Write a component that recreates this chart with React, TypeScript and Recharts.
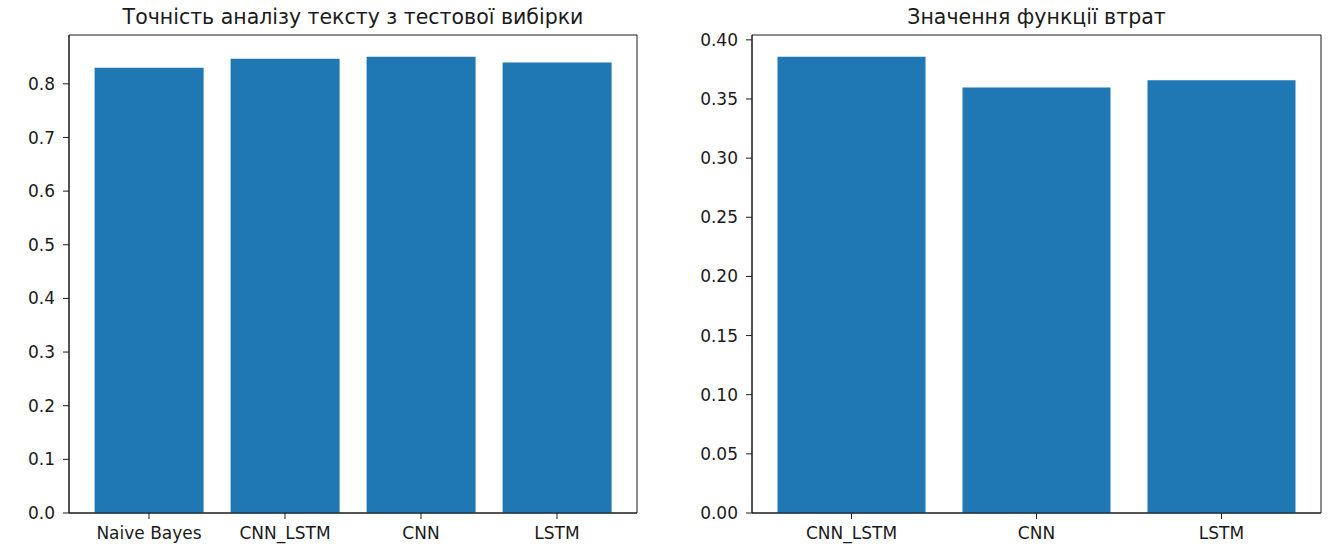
import { BarChart, Bar, XAxis, YAxis, CartesianGrid } from "recharts"

const accuracyModels = ["Naive Bayes", "CNN_LSTM", "CNN", "LSTM"]
const accuracyValues = [0.83, 0.8465, 0.8505, 0.8396]
const accuracyTicks = [0, 0.1, 0.2, 0.3, 0.4, 0.5, 0.6, 0.7, 0.8]

const lossModels = ["CNN_LSTM", "CNN", "LSTM"]
const lossValues = [0.3858, 0.3598, 0.3659]
const lossTicks = [0, 0.05, 0.1, 0.15, 0.2, 0.25, 0.3, 0.35, 0.4]

const FONT = "'DejaVu Sans', sans-serif"
const BLUE = "#1f77b4"
const INK = "#1a1a1a"

const accuracyData = accuracyModels.map((name, i) => ({ name, value: accuracyValues[i] }))
const lossData = lossModels.map((name, i) => ({ name, value: lossValues[i] }))

interface PanelProps {
  title: string
  data: { name: string; value: number }[]
  ticks: number[]
  domainMax: number
  digits: number
  left: number
  yWidth: number
  rightMargin: number
  pad: number
}

// frame lines: the edges of the plot area, so the grid draws a box like matplotlib spines
const frameX = ({ offset }: any) => [offset.left, offset.left + offset.width]
const frameY = ({ offset }: any) => [offset.top, offset.top + offset.height]

function Panel({ title, data, ticks, domainMax, digits, left, yWidth, rightMargin, pad }: PanelProps) {
  const width = 670
  const plotW = width - yWidth - rightMargin
  return (
    <div style={{ position: "absolute", left, top: 0, width, height: 548 }}>
      <div
        style={{
          position: "absolute",
          left: yWidth,
          width: plotW,
          top: 5,
          lineHeight: "24px",
          textAlign: "center",
          fontFamily: FONT,
          fontSize: 20.5,
          color: INK,
          whiteSpace: "nowrap",
        }}
      >
        {title}
      </div>
      <BarChart
        width={width}
        height={548}
        data={data}
        margin={{ top: 35, right: rightMargin, bottom: 0, left: 0 }}
        barCategoryGap="10%"
      >
        <CartesianGrid
          stroke={INK}
          strokeOpacity={1}
          verticalCoordinatesGenerator={frameX}
          horizontalCoordinatesGenerator={frameY}
        />
        <XAxis
          dataKey="name"
          height={35}
          padding={{ left: pad, right: pad }}
          tickSize={6}
          tickMargin={8}
          axisLine={{ stroke: INK }}
          tickLine={{ stroke: INK }}
          tick={{ fill: INK, fontFamily: FONT, fontSize: 17 }}
          interval={0}
        />
        <YAxis
          width={yWidth}
          domain={[0, domainMax]}
          ticks={ticks}
          tickSize={6}
          tickMargin={8}
          axisLine={{ stroke: INK }}
          tickLine={{ stroke: INK }}
          tickFormatter={(v: number) => v.toFixed(digits)}
          tick={{ fill: INK, fontFamily: FONT, fontSize: 17 }}
          allowDataOverflow
        />
        <Bar dataKey="value" fill={BLUE} isAnimationActive={false} />
      </BarChart>
    </div>
  )
}

export default function App() {
  return (
    <div style={{ position: "absolute", left: 0, top: 0, width: 1340, height: 548, background: "#fff" }}>
      <Panel
        title="Точність аналізу тексту з тестової вибірки"
        data={accuracyData}
        ticks={accuracyTicks}
        domainMax={0.891}
        digits={1}
        left={0}
        yWidth={69}
        rightMargin={33}
        pad={12}
      />
      <Panel
        title="Значення функції втрат"
        data={lossData}
        ticks={lossTicks}
        domainMax={0.4041}
        digits={2}
        left={670}
        yWidth={82}
        rightMargin={19}
        pad={7}
      />
    </div>
  )
}
